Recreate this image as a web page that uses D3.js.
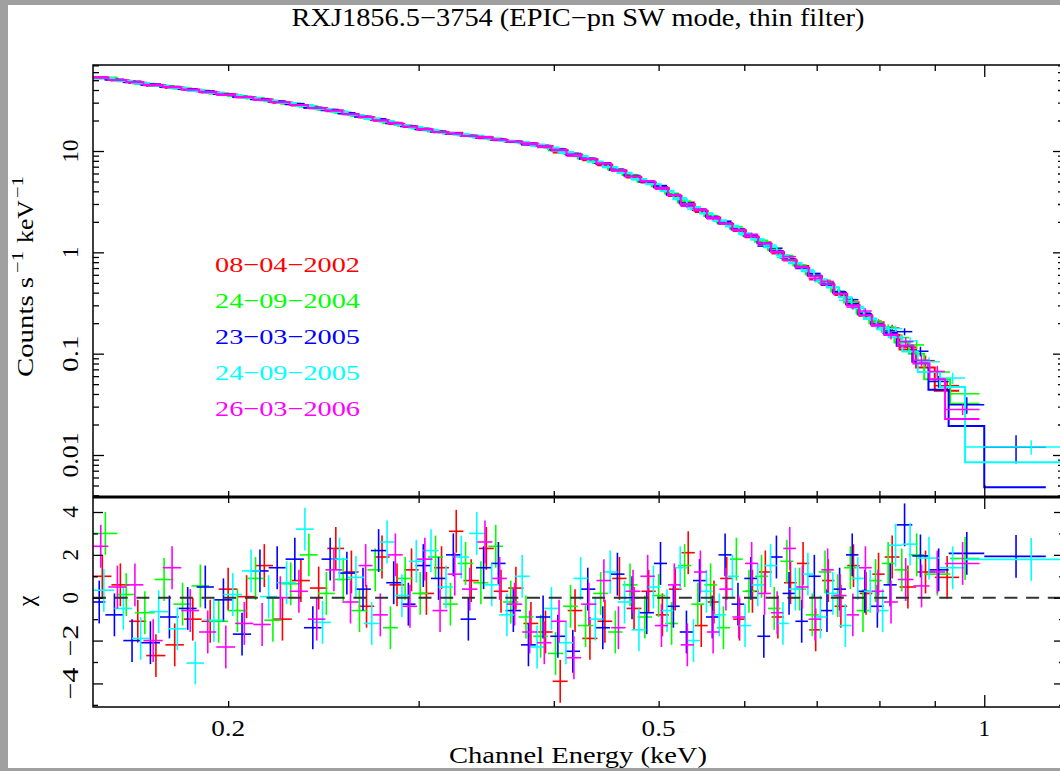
<!DOCTYPE html>
<html>
<head>
<meta charset="utf-8">
<script src="https://cdn.jsdelivr.net/npm/d3@7"></script>
<style>
  body { margin: 0; background: #a0a0a0; }
  svg { display: block; }
  text { font-family: "Liberation Serif", "Times New Roman", serif; fill: #000; }
</style>
</head>
<body>
<svg id="chart" width="1060" height="771"></svg>
<script>
// observation dates (legend) and their colours
var dates = ["08\u221204\u22122002", "24\u221209\u22122004", "23\u221203\u22122005", "24\u221209\u22122005", "26\u221203\u22122006"];
var colors = ["#ff0000", "#00ff00", "#0000ff", "#00ffff", "#ff00ff"];

// axis ticks
var xMinor = [0.2, 0.3, 0.4, 0.5, 0.6, 0.7, 0.8, 0.9];
var xMajor = [1];
var xLabels = [0.2, 0.5, 1];
var yDecades = [0.01, 0.1, 1, 10];
var resMajor = [-4, -2, 0, 2, 4];
var resMinor = [-5, -3, -1, 1, 3];

// per observation: bin edges (keV), model (counts s^-1 keV^-1),
// residual chi = (data-model)/sigma, sigma in % of model
var edges2002 = [0.150,0.156,0.162,0.168,0.175,0.182,0.189,0.196,0.204,0.212,0.220,0.229,0.238,0.247,0.256,
  0.264,0.273,0.282,0.291,0.300,0.310,0.320,0.330,0.341,0.352,0.363,0.375,0.387,0.399,0.412,0.425,0.439,0.453,0.467,0.482,0.497,
  0.511,0.525,0.540,0.555,0.570,0.586,0.602,0.619,0.636,0.653,0.671,0.689,0.708,0.727,0.747,0.767,0.788,0.809,
  0.835,0.865,0.900,0.948];
var model2002 = [52.5,49.7,47.2,44.7,42.4,40.2,38.1,36.0,33.9,32.0,30.1,28.2,26.4,24.7,
  23.0,21.5,19.9,18.5,17.3,16.2,15.3,14.7,14.1,13.4,12.8,12.3,11.8,11.2,10.2,9.2,8.3,7.3,6.4,5.5,4.9,
  4.3,3.6,2.98,2.56,2.2,1.9,1.65,1.41,1.21,1.0,0.83,0.70,0.58,0.48,0.385,0.30,0.237,0.19,
  0.153,0.11,0.073,0.043];
var chi2002 = [1.0,0.6,-1.1,-2.7,-2.2,-1.0,-1.1,0.4,0.05,1.5,-1.0,0.8,0.45,2.3,
  1.2,-0.4,1.9,0.6,1.3,0.2,1.4,3.1,0.8,2.3,0.3,0.45,-1.2,-1.6,-3.9,-0.6,-1.9,-1.1,0.9,-0.5,0.3,
  -0.8,0.4,2.1,-1.3,-0.2,0.9,-1.0,0.3,1.2,-0.9,0.7,1.6,-1.5,0.8,-0.4,1.5,0.2,1.1,
  1.9,0.5,1.2,0.95];
var err2002 = [0.9,0.9,0.9,0.9,0.9,0.9,0.9,0.9,0.9,0.9,0.9,0.9,0.9,0.9,
  1.1,1.1,1.1,1.1,1.1,1.1,1.1,1.1,1.1,1.1,1.1,1.5,1.5,1.5,1.5,1.5,1.5,1.5,1.5,1.5,1.5,
  2.3,2.3,2.3,2.3,2.3,2.3,2.3,3.5,3.5,3.5,3.5,3.5,5,5,5,5,7,7,
  9,11,14,13];

var edges2004 = [0.150,0.158,0.164,0.171,0.178,0.185,0.192,0.200,0.208,0.216,0.224,0.233,0.242,0.251,0.260,
  0.269,0.278,0.287,0.296,0.306,0.316,0.326,0.337,0.348,0.359,0.371,0.383,0.395,0.408,0.421,0.435,0.449,0.463,0.478,0.493,0.507,
  0.521,0.536,0.551,0.566,0.582,0.598,0.614,0.631,0.648,0.666,0.684,0.703,0.722,0.742,0.762,0.783,0.804,0.826,
  0.852,0.880,0.930,0.990];
var model2004 = [52,48.8,46.2,43.7,41.5,39.3,37.1,34.9,33.0,31.1,29.3,27.3,25.6,23.9,
  22.2,20.6,19.1,17.8,16.7,15.6,14.9,14.3,13.6,13.0,12.5,12.0,11.4,10.5,9.5,8.5,7.6,6.6,5.8,5.0,4.5,
  3.8,3.1,2.66,2.28,1.98,1.72,1.47,1.27,1.06,0.88,0.74,0.61,0.50,0.41,0.32,0.25,0.20,0.165,
  0.129,0.10,0.056,0.032];
var chi2004 = [3.0,0.15,-0.7,0.85,-0.3,0.55,-1.1,-0.6,0.9,-1.05,0.65,2.0,0.2,0.85,
  -0.6,1.3,-1.4,0.9,0.2,1.9,-0.3,1.6,0.7,2.4,-0.2,-0.9,-1.8,-2.6,-0.4,-1.3,0.2,-1.6,0.6,-0.9,0.1,
  -1.2,1.5,-0.3,0.6,-1.4,1.8,0.3,1.0,-0.5,1.7,0.4,-0.8,1.2,0.1,1.4,-0.6,0.8,1.6,
  1.3,2.0,1.1,1.83];
var err2004 = [0.9,0.9,0.9,0.9,0.9,0.9,0.9,0.9,0.9,0.9,0.9,0.9,0.9,0.9,
  1.1,1.1,1.1,1.1,1.1,1.1,1.1,1.1,1.1,1.1,1.1,1.5,1.5,1.5,1.5,1.5,1.5,1.5,1.5,1.5,1.5,
  2.3,2.3,2.3,2.3,2.3,2.3,2.3,3.5,3.5,3.5,3.5,3.5,5,5,5,5,7,7,
  9,11,16,14];

var edges2005a = [0.150,0.154,0.160,0.166,0.173,0.180,0.187,0.194,0.202,0.210,0.218,0.226,0.235,0.244,0.253,
  0.262,0.271,0.280,0.289,0.298,0.308,0.318,0.328,0.339,0.350,0.361,0.373,0.385,0.397,0.410,0.423,0.437,0.451,0.465,0.480,0.495,
  0.509,0.523,0.538,0.553,0.568,0.584,0.600,0.617,0.634,0.651,0.669,0.687,0.706,0.725,0.745,0.765,0.786,0.807,
  0.830,0.858,0.888,0.927,1.000,1.140];
var model2005a = [53,50.7,48.4,45.5,43.1,40.9,38.8,36.5,34.4,32.5,30.7,28.9,26.9,25.3,
  23.5,21.8,20.3,18.8,17.6,16.4,15.5,14.8,14.2,13.5,12.9,12.4,11.9,11.3,10.4,9.4,8.4,7.6,6.5,5.7,5.0,
  4.4,3.7,3.05,2.62,2.24,1.94,1.69,1.44,1.23,1.03,0.85,0.72,0.59,0.49,0.40,0.31,0.245,0.195,
  0.16,0.12,0.083,0.044,0.0193,0.0048];
var chi2005a = [-0.2,-0.8,-2.0,-2.1,-0.9,-0.5,0.5,-0.1,-1.7,1.25,1.4,1.8,-1.4,1.8,
  1.15,0.4,2.2,0.7,-0.3,1.5,0.9,2.0,-1.0,1.4,1.6,-0.6,-2.2,-0.9,-1.8,-2.5,0.4,-1.4,1.1,0.0,-0.7,
  1.6,-0.4,-1.6,0.8,-0.9,2.0,-0.3,0.9,-1.8,1.9,0.2,-1.1,1.0,-0.6,0.4,2.0,0.3,-0.4,
  0.6,3.4,1.95,1.3,2.07,1.93];
var err2005a = [0.9,0.9,0.9,0.9,0.9,0.9,0.9,0.9,0.9,0.9,0.9,0.9,0.9,0.9,
  1.1,1.1,1.1,1.1,1.1,1.1,1.1,1.1,1.1,1.1,1.1,1.5,1.5,1.5,1.5,1.5,1.5,1.5,1.5,1.5,1.5,
  2.3,2.3,2.3,2.3,2.3,2.3,2.3,3.5,3.5,3.5,3.5,3.5,5,5,5,5,7,7,
  9,11,14,16,30,77];

var edges2005b = [0.150,0.157,0.163,0.169,0.176,0.183,0.190,0.198,0.206,0.214,0.222,0.231,0.240,0.249,0.258,
  0.267,0.276,0.285,0.294,0.303,0.313,0.323,0.334,0.345,0.356,0.368,0.380,0.392,0.404,0.417,0.430,0.444,0.458,0.472,0.487,0.502,
  0.516,0.531,0.546,0.561,0.577,0.593,0.609,0.626,0.643,0.660,0.678,0.696,0.715,0.734,0.754,0.774,0.795,0.816,
  0.840,0.868,0.910,0.960,1.250];
var model2005b = [52.3,49.3,46.9,44.4,42.1,39.9,37.7,35.5,33.4,31.5,29.7,27.8,26.0,24.3,
  22.6,20.9,19.4,18.1,17.0,15.9,15.1,14.5,13.8,13.2,12.6,12.1,11.6,10.8,9.8,8.9,7.9,6.9,6.1,5.3,4.7,
  4.05,3.35,2.8,2.42,2.07,1.8,1.54,1.33,1.12,0.93,0.78,0.65,0.54,0.45,0.36,0.28,0.22,0.18,
  0.145,0.105,0.066,0.047,0.0085];
var chi2005b = [0.35,-0.5,-1.9,-0.65,-1.45,-3.05,-1.05,0.15,1.25,0.05,0.7,3.2,-1.15,1.8,
  0.95,-1.2,2.6,0.1,1.7,2.2,0.5,1.9,3.0,0.6,-0.8,1.0,-2.3,-0.5,-2.1,0.9,-1.0,1.2,-0.2,-1.5,0.5,
  -0.6,1.4,-2.0,0.3,-0.8,1.0,-1.3,0.6,1.5,-1.2,0.4,1.1,-0.9,0.2,-1.3,0.9,0.3,-0.6,
  2.45,2.5,1.85,1.4,1.79];
var err2005b = [0.9,0.9,0.9,0.9,0.9,0.9,0.9,0.9,0.9,0.9,0.9,0.9,0.9,0.9,
  1.1,1.1,1.1,1.1,1.1,1.1,1.1,1.1,1.1,1.1,1.1,1.5,1.5,1.5,1.5,1.5,1.5,1.5,1.5,1.5,1.5,
  2.3,2.3,2.3,2.3,2.3,2.3,2.3,3.5,3.5,3.5,3.5,3.5,5,5,5,5,7,7,
  9,11,14,16,23];

var edges2006 = [0.150,0.155,0.161,0.167,0.174,0.181,0.188,0.195,0.203,0.211,0.219,0.228,0.237,0.246,0.255,
  0.264,0.272,0.281,0.290,0.299,0.309,0.319,0.329,0.340,0.351,0.362,0.374,0.386,0.398,0.411,0.424,0.438,0.452,0.466,0.481,0.496,
  0.510,0.524,0.539,0.554,0.569,0.585,0.601,0.618,0.635,0.652,0.670,0.688,0.707,0.726,0.746,0.766,0.787,0.808,
  0.832,0.860,0.890,0.920,0.990];
var model2006 = [52.8,50.2,47.7,45.1,42.7,40.5,38.4,36.3,34.1,32.2,30.3,28.5,26.6,24.9,
  23.1,21.6,20.1,18.7,17.5,16.3,15.4,14.8,14.1,13.5,12.9,12.4,11.9,11.2,10.3,9.3,8.4,7.5,6.5,5.6,5.0,
  4.35,3.65,3.0,2.6,2.22,1.92,1.67,1.43,1.22,1.02,0.84,0.71,0.58,0.485,0.39,0.30,0.24,0.19,
  0.155,0.12,0.08,0.056,0.0227];
var chi2006 = [2.4,0.5,0.6,-2.0,1.4,-0.6,-1.6,-2.3,-1.2,-1.25,0.0,0.3,-1.0,1.3,
  -0.2,1.5,-0.8,2.0,-0.4,1.8,-0.6,1.1,0.4,2.6,0.9,-0.3,-1.6,-2.1,-1.1,-2.8,-0.3,0.8,-1.4,0.3,1.0,
  -1.3,0.6,-2.2,1.2,-1.6,0.4,-0.9,1.6,0.2,-0.7,2.3,0.5,-1.0,1.3,0.1,-0.8,1.4,0.3,
  -0.2,0.85,0.55,1.2,1.6];
var err2006 = [0.9,0.9,0.9,0.9,0.9,0.9,0.9,0.9,0.9,0.9,0.9,0.9,0.9,0.9,
  1.1,1.1,1.1,1.1,1.1,1.1,1.1,1.1,1.1,1.1,1.1,1.5,1.5,1.5,1.5,1.5,1.5,1.5,1.5,1.5,1.5,
  2.3,2.3,2.3,2.3,2.3,2.3,2.3,3.5,3.5,3.5,3.5,3.5,5,5,5,5,7,7,
  9,11,14,16,15];

var series = [
  {edges: edges2002, model: model2002, chi: chi2002, err: err2002},
  {edges: edges2004, model: model2004, chi: chi2004, err: err2004},
  {edges: edges2005a, model: model2005a, chi: chi2005a, err: err2005a},
  {edges: edges2005b, model: model2005b, chi: chi2005b, err: err2005b},
  {edges: edges2006, model: model2006, chi: chi2006, err: err2006}
];
series.forEach(function(s, k) {
  s.name = dates[k];
  s.color = colors[k];
  var n = Math.min(s.edges.length - 1, s.model.length, s.chi.length, s.err.length);
  s.bins = d3.range(n).map(function(i) {
    var m = s.model[i], sig = m * s.err[i] / 100;
    return {lo: s.edges[i], hi: s.edges[i + 1], m: m, sig: sig,
            data: m + s.chi[i] * sig, chi: s.chi[i]};
  });
});

var svg = d3.select("#chart"),
    pLeft = 93, pRight = 1064, pTop = 65, pMid = 497, pBottom = 707;

svg.append("rect").attr("width", 1060).attr("height", 771).attr("fill", "#a0a0a0");
svg.append("rect").attr("x", 8).attr("y", 5).attr("width", 1052).attr("height", 763).attr("fill", "#fff");

var x = d3.scaleLog().domain([0.15, 1.185]).range([pLeft, pRight]);
var yTop = d3.scaleLog().domain([0.00385, 70.6]).range([pMid, pTop]);
var yRes = d3.scaleLinear().domain([-5.1, 4.7]).range([pBottom, pMid]);

var defs = svg.append("defs");
defs.append("clipPath").attr("id", "clipTop").append("rect")
    .attr("x", pLeft).attr("y", pTop).attr("width", pRight - pLeft).attr("height", pMid - pTop);
defs.append("clipPath").attr("id", "clipRes").append("rect")
    .attr("x", pLeft).attr("y", pMid).attr("width", pRight - pLeft).attr("height", pBottom - pMid);

//spectra: model step + data crosses
var gTop = svg.append("g").attr("clip-path", "url(#clipTop)");
var step = d3.line().x(function(d) { return x(d[0]); }).y(function(d) { return yTop(d[1]); });

series.forEach(function(s) {
  var g = gTop.append("g").attr("stroke", s.color).attr("fill", "none");
  var pts = [];
  s.bins.forEach(function(b) { pts.push([b.lo, b.m], [b.hi, b.m]); });
  g.append("path").attr("d", step(pts)).attr("stroke-width", 2);

  g.selectAll("line.h").data(s.bins).enter().append("line")
      .attr("x1", function(d) { return x(d.lo); })
      .attr("x2", function(d) { return x(d.hi); })
      .attr("y1", function(d) { return yTop(d.data); })
      .attr("y2", function(d) { return yTop(d.data); })
      .attr("stroke-width", 1.5);
  g.selectAll("line.v").data(s.bins).enter().append("line")
      .attr("x1", function(d) { return x((d.lo + d.hi) / 2); })
      .attr("x2", function(d) { return x((d.lo + d.hi) / 2); })
      .attr("y1", function(d) { return yTop(d.data - d.sig); })
      .attr("y2", function(d) { return yTop(d.data + d.sig); })
      .attr("stroke-width", 1.5);
});

//residuals
var gRes = svg.append("g").attr("clip-path", "url(#clipRes)");
series.forEach(function(s) {
  var g = gRes.append("g").attr("stroke", s.color).attr("stroke-width", 1.6);
  g.selectAll("line.h").data(s.bins).enter().append("line")
      .attr("x1", function(d) { return x(d.lo); })
      .attr("x2", function(d) { return x(d.hi); })
      .attr("y1", function(d) { return yRes(d.chi); })
      .attr("y2", function(d) { return yRes(d.chi); });
  g.selectAll("line.v").data(s.bins).enter().append("line")
      .attr("x1", function(d) { return x((d.lo + d.hi) / 2); })
      .attr("x2", function(d) { return x((d.lo + d.hi) / 2); })
      .attr("y1", function(d) { return yRes(d.chi - 1); })
      .attr("y2", function(d) { return yRes(d.chi + 1); });
});

gRes.append("line")
    .attr("x1", pLeft).attr("x2", pRight)
    .attr("y1", yRes(0)).attr("y2", yRes(0))
    .attr("stroke", "#333").attr("stroke-width", 2)
    .attr("stroke-dasharray", "13,8.7");

//ticks (pointing inward, pgplot style)
function ticks(axisFn, scale, values, size, tx, ty) {
  var g = svg.append("g").attr("transform", "translate(" + tx + "," + ty + ")")
      .call(axisFn(scale).tickValues(values).tickSize(size).tickFormat(""));
  g.select(".domain").remove();
  g.selectAll(".tick text").remove();
  g.selectAll(".tick line").attr("stroke", "#000").attr("stroke-width", 1.3);
}

var yMinor = [];
[0.001, 0.01, 0.1, 1, 10].forEach(function(d) {
  d3.range(2, 10).forEach(function(k) {
    var v = +(d * k).toPrecision(3);
    if (v > 0.00385 && v < 70.6) yMinor.push(v);
  });
});

[[pTop, d3.axisTop], [pMid, d3.axisBottom], [pMid, d3.axisTop], [pBottom, d3.axisBottom]].forEach(function(a) {
  ticks(a[1], x, xMinor, -6, 0, a[0]);
  ticks(a[1], x, xMajor, -12, 0, a[0]);
});
ticks(d3.axisLeft, yTop, yMinor, -6, pLeft, 0);
ticks(d3.axisLeft, yTop, yDecades, -11, pLeft, 0);
ticks(d3.axisRight, yTop, yMinor, -6, pRight, 0);
ticks(d3.axisRight, yTop, yDecades, -11, pRight, 0);
ticks(d3.axisLeft, yRes, resMinor, -5, pLeft, 0);
ticks(d3.axisLeft, yRes, resMajor, -10, pLeft, 0);
ticks(d3.axisRight, yRes, resMinor, -5, pRight, 0);
ticks(d3.axisRight, yRes, resMajor, -10, pRight, 0);

//frames
svg.append("rect").attr("x", pLeft).attr("y", pTop).attr("width", pRight - pLeft).attr("height", pBottom - pTop)
    .attr("fill", "none").attr("stroke", "#000").attr("stroke-width", 1.5);
svg.append("line").attr("x1", pLeft).attr("x2", pRight).attr("y1", pMid).attr("y2", pMid)
    .attr("stroke", "#000").attr("stroke-width", 3);

//labels
svg.append("text").attr("x", 578).attr("y", 26).attr("text-anchor", "middle")
    .attr("font-size", 25).attr("textLength", 573).attr("lengthAdjust", "spacingAndGlyphs")
    .text("RXJ1856.5\u22123754 (EPIC\u2212pn SW mode, thin filter)");

svg.selectAll("text.xl").data(xLabels).enter().append("text")
    .attr("x", function(d) { return x(d); })
    .attr("y", 736).attr("text-anchor", "middle").attr("font-size", 23)
    .attr("textLength", function(d) { return d < 1 ? 34 : null; })
    .attr("lengthAdjust", "spacingAndGlyphs")
    .text(function(d) { return d; });

svg.append("text").attr("x", 578).attr("y", 763).attr("text-anchor", "middle")
    .attr("font-size", 23).attr("textLength", 258).attr("lengthAdjust", "spacingAndGlyphs")
    .text("Channel Energy (keV)");

var yLabLen = {"10": 23, "1": null, "0.1": 36, "0.01": 45};
svg.selectAll("text.yl").data(yDecades).enter().append("text")
    .attr("transform", function(d) { return "translate(78," + yTop(d) + ") rotate(-90)"; })
    .attr("text-anchor", "middle").attr("font-size", 23)
    .attr("textLength", function(d) { return yLabLen[String(d)]; })
    .attr("lengthAdjust", "spacingAndGlyphs")
    .text(function(d) { return String(d); });

svg.selectAll("text.rl").data(resMajor).enter().append("text")
    .attr("transform", function(d) { return "translate(78," + yRes(d) + ") rotate(-90)"; })
    .attr("text-anchor", "middle").attr("font-size", 23)
    .attr("textLength", function(d) { return d < 0 ? 32 : null; })
    .attr("lengthAdjust", "spacingAndGlyphs")
    .text(function(d) { return d < 0 ? "\u2212" + Math.abs(d) : String(d); });

// y title with superscripts
var yt = svg.append("g").attr("transform", "translate(33,377) rotate(-90)");
yt.append("text").attr("x", 0).attr("font-size", 23)
    .attr("textLength", 100).attr("lengthAdjust", "spacingAndGlyphs").text("Counts s");
yt.append("text").attr("x", 104).attr("y", -10).attr("font-size", 16)
    .attr("textLength", 22).attr("lengthAdjust", "spacingAndGlyphs").text("\u22121");
yt.append("text").attr("x", 134).attr("font-size", 23)
    .attr("textLength", 43).attr("lengthAdjust", "spacingAndGlyphs").text("keV");
yt.append("text").attr("x", 179).attr("y", -10).attr("font-size", 16)
    .attr("textLength", 22).attr("lengthAdjust", "spacingAndGlyphs").text("\u22121");

svg.append("text").attr("transform", "translate(34,601) rotate(-90)")
    .attr("text-anchor", "middle").attr("font-size", 24).text("\u03c7");

//legend
svg.selectAll("text.leg").data(series).enter().append("text")
    .attr("x", 215)
    .attr("y", function(d, i) { return 272 + i * 36; })
    .attr("font-size", 22).attr("textLength", 145).attr("lengthAdjust", "spacingAndGlyphs")
    .style("fill", function(d) { return d.color; })
    .text(function(d) { return d.name; });
</script>
</body>
</html>
